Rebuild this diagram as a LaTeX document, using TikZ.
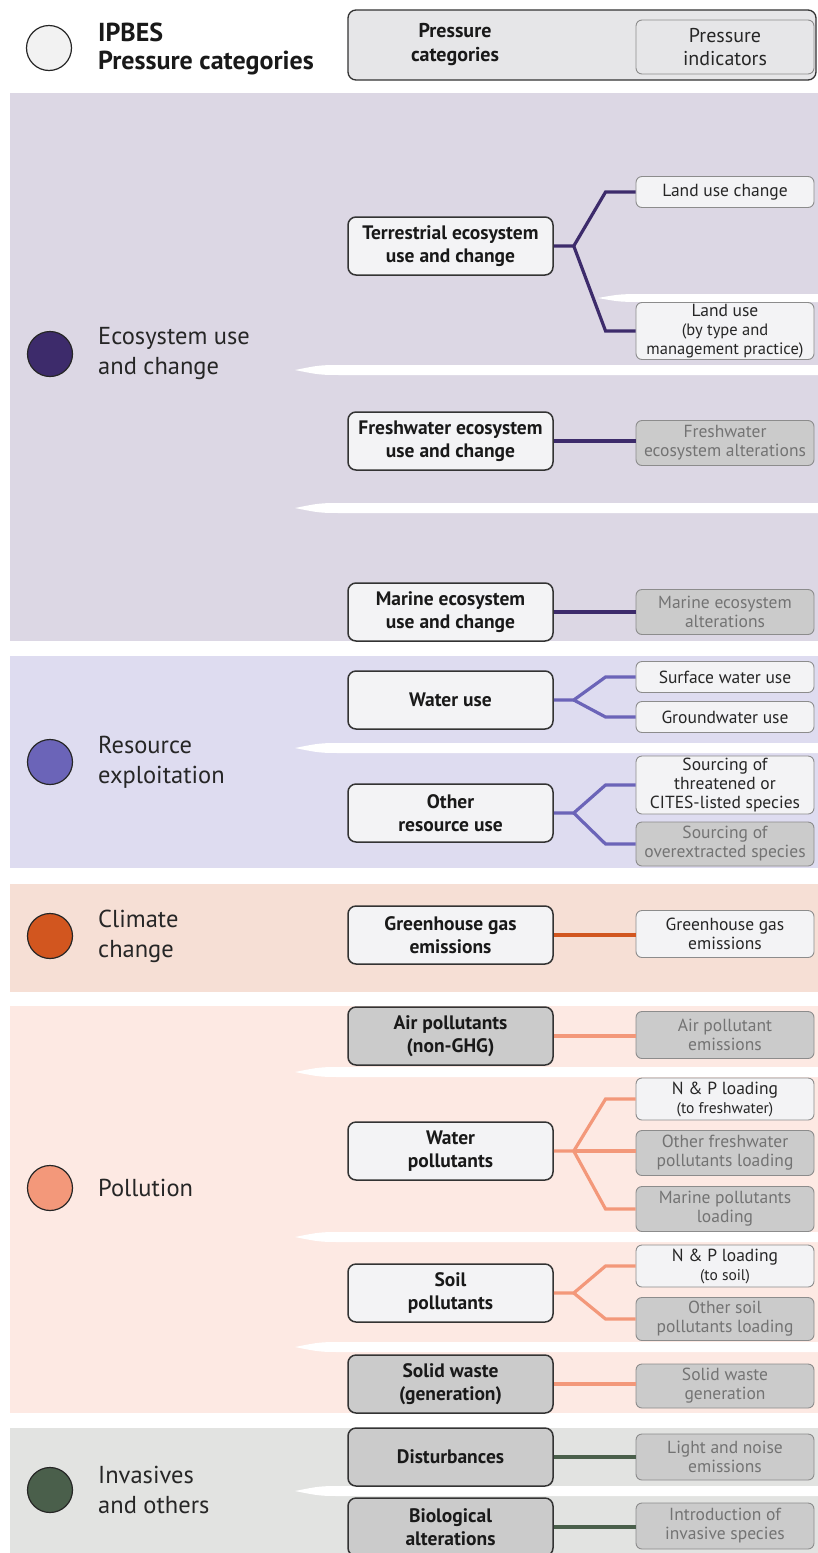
\documentclass[tikz,border=0pt]{standalone}
\usepackage{fontspec}
\setmainfont{PT Sans}
\usepackage{xcolor}
\usetikzlibrary{positioning}

\definecolor{bandeco}{HTML}{DCD7E4}
\definecolor{bandres}{HTML}{DEDCF0}
\definecolor{bandclim}{HTML}{F6DFD5}
\definecolor{bandpoll}{HTML}{FDE9E3}
\definecolor{bandinv}{HTML}{E2E3E1}
\definecolor{headgray}{HTML}{E6E6E8}
\definecolor{boxwhite}{HTML}{F3F3F5}
\definecolor{boxgray}{HTML}{CBCBCB}
\definecolor{ecoline}{HTML}{3D2B6B}
\definecolor{resline}{HTML}{6B64B8}
\definecolor{climline}{HTML}{D2561F}
\definecolor{pollline}{HTML}{F3987A}
\definecolor{invline}{HTML}{4A5F4B}

\begin{document}
\begin{tikzpicture}[x=1pt, y=-1pt]

		% Define styles
		\tikzstyle{category} = [rectangle, rounded corners=8pt, draw=black!80, line width=1.5pt, fill=boxwhite, text=black!90, minimum width=205pt, minimum height=58pt, inner sep=2pt, align=center, font=\fontsize{19.5}{23.5}\selectfont\bfseries]
		\tikzstyle{catgray} = [category, fill=boxgray]
		\tikzstyle{indicator} = [rectangle, rounded corners=6pt, draw=black!45, line width=0.9pt, fill=boxwhite, text=black!85, minimum width=178pt, inner sep=1pt, align=center, font=\fontsize{17.5}{19}\selectfont]
		\tikzstyle{indgray} = [indicator, fill=boxgray, text=black!55]
		\tikzstyle{catdot} = [circle, draw=black!85, line width=1.2pt, minimum size=45pt, inner sep=0pt]
		\tikzstyle{catlabel} = [anchor=west, align=left, inner sep=0pt, text=black!85, font=\fontsize{24.5}{30}\selectfont]
		\tikzstyle{link} = [line width=3.2pt]

		\useasboundingbox (0,0) rectangle (818,1553);

		% Bands
		\fill[bandeco] (10,93) rectangle (818,641);
		\fill[bandres] (10,656) rectangle (818,868);
		\fill[bandclim] (10,884) rectangle (818,992);
		\fill[bandpoll] (10,1006) rectangle (818,1413);
		\fill[bandinv] (10,1428) rectangle (818,1553);

		% White gaps
		\fill[white] (598,298) .. controls (620,294) .. (650,294) -- (818,294) -- (818,302) -- (650,302) .. controls (620,302) .. (598,298) -- cycle;
		\fill[white] (295,370) .. controls (320,365) .. (345,365) -- (818,365) -- (818,375) -- (345,375) .. controls (320,375) .. (295,370) -- cycle;
		\fill[white] (295,508) .. controls (320,503) .. (345,503) -- (818,503) -- (818,513) -- (345,513) .. controls (320,513) .. (295,508) -- cycle;
		\fill[white] (295,748) .. controls (320,743) .. (345,743) -- (818,743) -- (818,753) -- (345,753) .. controls (320,753) .. (295,748) -- cycle;
		\fill[white] (295,1072) .. controls (320,1067) .. (345,1067) -- (818,1067) -- (818,1077) -- (345,1077) .. controls (320,1077) .. (295,1072) -- cycle;
		\fill[white] (295,1237) .. controls (320,1232) .. (345,1232) -- (818,1232) -- (818,1242) -- (345,1242) .. controls (320,1242) .. (295,1237) -- cycle;
		\fill[white] (295,1347) .. controls (320,1342) .. (345,1342) -- (818,1342) -- (818,1352) -- (345,1352) .. controls (320,1352) .. (295,1347) -- cycle;
		\fill[white] (295,1491) .. controls (320,1486) .. (345,1486) -- (818,1486) -- (818,1496) -- (345,1496) .. controls (320,1496) .. (295,1491) -- cycle;

		% Header
		\node[catdot, fill=white!95!black] (headdot) at (49,48) {};
		\node[catlabel, font=\fontsize{26}{28.5}\selectfont\bfseries, text=black!90] (headlab) at (98,49) {IPBES\\Pressure categories};
		\node[rectangle, rounded corners=8pt, draw=black!80, line width=1.3pt, fill=headgray, minimum width=468pt, minimum height=70pt] (header) at (582,45) {};
		\node[font=\fontsize{20}{24}\selectfont\bfseries, align=center, text=black!90] (headcat) at (455,45) {Pressure\\categories};
		\node[indicator, fill=headgray, minimum height=54pt, font=\fontsize{20}{23}\selectfont] (headind) at (725,47) {Pressure\\indicators};

		% Categories
		\node[catdot, fill=ecoline] (ecodot) at (50,354) {};
		\node[catlabel] (ecolab) at (98,354) {Ecosystem use\\and change};
		\node[catdot, fill=resline] (resdot) at (50,762) {};
		\node[catlabel] (reslab) at (98,762) {Resource\\exploitation};
		\node[catdot, fill=climline] (climdot) at (50,936) {};
		\node[catlabel] (climlab) at (98,936) {Climate\\change};
		\node[catdot, fill=pollline] (polldot) at (50,1188) {};
		\node[catlabel] (polllab) at (98,1188) {Pollution};
		\node[catdot, fill=invline] (invdot) at (50,1490) {};
		\node[catlabel] (invlab) at (98,1490) {Invasives\\and others};

		% Pressure categories
		\node[category] (terr) at (450.5,246) {Terrestrial ecosystem\\use and change};
		\node[category] (fresh) at (450.5,441) {Freshwater ecosystem\\use and change};
		\node[category] (marine) at (450.5,612) {Marine ecosystem\\use and change};
		\node[category] (wateruse) at (450.5,700) {Water use};
		\node[category] (otheruse) at (450.5,813) {Other\\resource use};
		\node[category] (ghg) at (450.5,935) {Greenhouse gas\\emissions};
		\node[catgray] (air) at (450.5,1036) {Air pollutants\\(non-GHG)};
		\node[category] (waterpol) at (450.5,1151) {Water\\pollutants};
		\node[category] (soilpol) at (450.5,1293) {Soil\\pollutants};
		\node[catgray] (solid) at (450.5,1384) {Solid waste\\(generation)};
		\node[catgray] (disturb) at (450.5,1457) {Disturbances};
		\node[catgray] (bio) at (450.5,1527) {Biological\\alterations};

		% Pressure indicators
		\node[indicator, minimum height=31pt] (landchg) at (725,192) {Land use change};
		\node[indicator, minimum height=57pt] (landuse) at (725,331) {Land use\\{\fontsize{16.5}{17}\selectfont (by type and}\\{\fontsize{16.5}{17}\selectfont management practice)}};
		\node[indgray, minimum height=45pt] (freshalt) at (725,443) {Freshwater\\ecosystem alterations};
		\node[indgray, minimum height=45pt] (marinealt) at (725,612) {Marine ecosystem\\alterations};
		\node[indicator, minimum height=31pt] (surface) at (725,677) {Surface water use};
		\node[indicator, minimum height=31pt] (ground) at (725,717) {Groundwater use};
		\node[indicator, minimum height=58pt] (threat) at (725,785) {Sourcing of\\threatened or\\CITES-listed species};
		\node[indgray, minimum height=44pt] (overext) at (725,844) {Sourcing of\\overextracted species};
		\node[indicator, minimum height=47pt] (ghgind) at (725,934) {Greenhouse gas\\emissions};
		\node[indgray, minimum height=47pt] (airind) at (725,1035) {Air pollutant\\emissions};
		\node[indicator, minimum height=42pt] (npfresh) at (725,1099) {N \& P loading\\{\fontsize{15.5}{16}\selectfont (to freshwater)}};
		\node[indgray, minimum height=45pt] (otherfresh) at (725,1153) {Other freshwater\\pollutants loading};
		\node[indgray, minimum height=45pt] (marinepol) at (725,1209) {Marine pollutants\\loading};
		\node[indicator, minimum height=42pt] (npsoil) at (725,1266) {N \& P loading\\{\fontsize{15.5}{16}\selectfont (to soil)}};
		\node[indgray, minimum height=43pt] (othersoil) at (725,1319) {Other soil\\pollutants loading};
		\node[indgray, minimum height=44pt] (solidind) at (725,1386) {Solid waste\\generation};
		\node[indgray, minimum height=46pt] (light) at (725,1457) {Light and noise\\emissions};
		\node[indgray, minimum height=46pt] (invasive) at (725,1526) {Introduction of\\invasive species};

		% Connectors
		\coordinate (terrfork) at ([xshift=20pt]terr.east);
		\draw[link, ecoline] (terr.east) -- (terrfork) -- ([xshift=-30pt]landchg.west) -- (landchg.west);
		\draw[link, ecoline] (terrfork) -- ([xshift=-30pt]landuse.west) -- (landuse.west);
		\draw[link, ecoline] (fresh.east) -- (fresh.east -| freshalt.west);
		\draw[link, ecoline] (marine.east) -- (marinealt.west);

		\coordinate (waterfork) at ([xshift=20pt]wateruse.east);
		\draw[link, resline] (wateruse.east) -- (waterfork) -- ([xshift=-30pt]surface.west) -- (surface.west);
		\draw[link, resline] (waterfork) -- ([xshift=-30pt]ground.west) -- (ground.west);
		\coordinate (otherfork) at ([xshift=20pt]otheruse.east);
		\draw[link, resline] (otheruse.east) -- (otherfork) -- ([xshift=-30pt]threat.west) -- (threat.west);
		\draw[link, resline] (otherfork) -- ([xshift=-30pt]overext.west) -- (overext.west);

		\draw[link, climline] (ghg.east) -- (ghg.east -| ghgind.west);

		\draw[link, pollline] (air.east) -- (air.east -| airind.west);
		\coordinate (wpfork) at ([xshift=20pt]waterpol.east);
		\draw[link, pollline] (waterpol.east) -- (wpfork) -- ([xshift=-30pt]npfresh.west) -- (npfresh.west);
		\draw[link, pollline] (wpfork) -- (wpfork -| otherfresh.west);
		\draw[link, pollline] (wpfork) -- ([xshift=-30pt]marinepol.west) -- (marinepol.west);
		\coordinate (spfork) at ([xshift=20pt]soilpol.east);
		\draw[link, pollline] (soilpol.east) -- (spfork) -- ([xshift=-30pt]npsoil.west) -- (npsoil.west);
		\draw[link, pollline] (spfork) -- ([xshift=-30pt]othersoil.west) -- (othersoil.west);
		\draw[link, pollline] (solid.east) -- (solid.east -| solidind.west);

		\draw[link, invline] (disturb.east) -- (disturb.east -| light.west);
		\draw[link, invline] (bio.east) -- (bio.east -| invasive.west);

	\end{tikzpicture}
\end{document}
